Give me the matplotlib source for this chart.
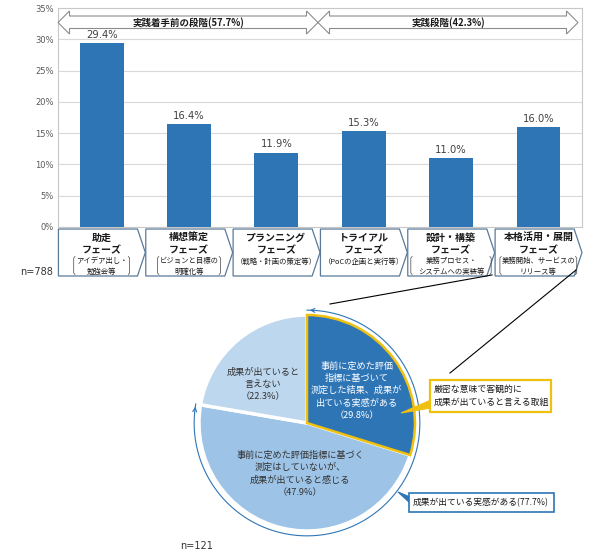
import matplotlib.pyplot as plt
from matplotlib.patches import Polygon, Rectangle
import numpy as np

plt.rcParams['font.family'] = ['Noto Sans CJK JP', 'DejaVu Sans']

# donnees du graphique en barres (n=788)
phases = ['助走', '構想策定', 'プランニング', 'トライアル', '設計・構築', '本格活用・展開']
details = [['アイデア出し・', '勉強会等'],
           ['ビジョンと目標の', '明確化等'],
           ['（戦略・計画の策定等）'],
           ['（PoCの企画と実行等）'],
           ['業務プロセス・', 'システムへの実装等'],
           ['業務開始、サービスの', 'リリース等']]
parts = [29.4, 16.4, 11.9, 15.3, 11.0, 16.0]
stage_labels = ['実践着手前の段階(57.7%)', '実践段階(42.3%)']
n_bar = 'n=788'

# donnees du camembert (n=121)
pie_labels = ['事前に定めた評価\n指標に基づいて\n測定した結果、成果が\n出ている実感がある\n（29.8%）',
              '事前に定めた評価指標に基づく\n測定はしていないが、\n成果が出ていると感じる\n（47.9%）',
              '成果が出ていると\n言えない\n（22.3%）']
pie_values = [29.8, 47.9, 22.3]
callout_strict = '厳密な意味で客観的に\n成果が出ていると言える取組'
callout_felt = '成果が出ている実感がある(77.7%)'
n_pie = 'n=121'

bleu = '#2e75b6'
narrow = ['Liberation Sans Narrow', 'DejaVu Sans']

fig = plt.figure(figsize=(5.9, 5.52), dpi=100)

# ---- barres ----
ax = fig.add_axes([58/590, 1-227/552, 524/590, 219/552])
x = np.arange(len(parts))
ax.bar(x, parts, width=0.5, color=bleu, zorder=3)
for i, v in enumerate(parts):
    ax.text(i, v + 0.5, f'{v:.1f}%', ha='center', va='bottom', fontsize=7.2,
            color='#404040', family=narrow)
ax.set_xlim(-0.5, 5.5)
ax.set_ylim(0, 35)
ax.set_yticks(range(0, 36, 5))
ax.set_yticklabels([f'{t}%' for t in range(0, 36, 5)], fontsize=6, color='#595959', family=narrow)
ax.set_xticks([])
ax.tick_params(length=0, pad=3)
ax.grid(axis='y', color='#d9d9d9', lw=0.8, zorder=0)
for s in ax.spines.values():
    s.set_color('#c8c8c8')
    s.set_linewidth(0.8)

# cases des phases sous l'axe
def yax(p):
    return (227 - p) / 219

tr = ax.get_xaxis_transform()
bracket_w = [0.32, 0.36, None, None, 0.46, 0.44]
for i, (ph, det) in enumerate(zip(phases, details)):
    l = i - 0.5 + 0.005
    pts = [(l, yax(229)), (l + 0.905, yax(229)), (l + 0.995, yax(252.5)),
           (l + 0.905, yax(276)), (l, yax(276))]
    ax.add_patch(Polygon(pts, closed=True, transform=tr, clip_on=False,
                         facecolor='white', edgecolor='#5a7a9a', lw=0.9))
    ax.text(i, yax(237.5), ph, transform=tr, ha='center', va='center', fontsize=7.2,
            fontweight='bold', color='#1a1a1a')
    ax.text(i, yax(250), 'フェーズ', transform=tr, ha='center', va='center', fontsize=7.2,
            fontweight='bold', color='#1a1a1a')
    if len(det) == 1:
        ax.text(i, yax(262), det[0], transform=tr, ha='center', va='center', fontsize=5.3,
                color='#1a1a1a')
    else:
        ax.text(i, yax(261), det[0], transform=tr, ha='center', va='center', fontsize=5.3,
                color='#1a1a1a')
        ax.text(i, yax(272), det[1], transform=tr, ha='center', va='center', fontsize=5.3,
                color='#1a1a1a')
        w = bracket_w[i]
        for sgn in (-1, 1):
            xb = i + sgn * w
            ax.plot([xb - sgn * 0.015, xb, xb, xb - sgn * 0.015],
                    [yax(256.5), yax(258), yax(273), yax(274.5)],
                    transform=tr, clip_on=False, color='#444444', lw=0.5)

# ---- camembert ----
axp = fig.add_axes([199/590, 1-531/552, 216/590, 216/552])
wedges, _ = axp.pie(pie_values, colors=[bleu, '#9dc3e6', '#bdd7ee'], startangle=90,
                    counterclock=False, radius=1,
                    wedgeprops=dict(edgecolor='white', linewidth=2.5))
wedges[0].set_edgecolor('#f0c010')
wedges[0].set_linewidth(1.8)
wedges[0].set_zorder(4)
axp.set_xlim(-1, 1)
axp.set_ylim(-1, 1)
axp.set_aspect('auto')
axp.axis('off')

axp.text(0.46, 0.30, pie_labels[0], ha='center', va='center', fontsize=6.6,
         color='white', linespacing=1.45, zorder=6)
axp.text(-0.065, -0.47, pie_labels[1], ha='center', va='center', fontsize=6.6,
         color='#333333', linespacing=1.45)
axp.text(-0.41, 0.36, pie_labels[2], ha='center', va='center', fontsize=6.6,
         color='#333333', linespacing=1.45)

# arc "実感がある" autour du camembert
share = (pie_values[0] + pie_values[1]) / 100
th = np.radians(np.linspace(90, 90 - share * 360, 200))
r = 1.045
axp.plot(r * np.cos(th), r * np.sin(th), color=bleu, lw=0.8, clip_on=False)
for a, b in ((th[3], th[0]), (th[-4], th[-1])):
    axp.annotate('', xy=(r * np.cos(b), r * np.sin(b)), xytext=(r * np.cos(a), r * np.sin(a)),
                 arrowprops=dict(arrowstyle='->', color=bleu, lw=0.8, mutation_scale=7),
                 annotation_clip=False)

# ---- calque de decoration (pixels) ----
ov = fig.add_axes([0, 0, 1, 1], zorder=5)
ov.set_xlim(0, 590)
ov.set_ylim(552, 0)
ov.axis('off')

# fleches des etapes
def fleche(x0, x1, head=11.5):
    pts = [(x0, 22.5), (x0 + head, 11), (x0 + head, 16), (x1 - head, 16), (x1 - head, 11),
           (x1, 22.5), (x1 - head, 34), (x1 - head, 28.5), (x0 + head, 28.5), (x0 + head, 34)]
    ov.add_patch(Polygon(pts, closed=True, facecolor='white', edgecolor='#8c8c8c', lw=0.8))

fleche(58, 318)
fleche(318, 578)
ov.text(188, 22.5, stage_labels[0], ha='center', va='center', fontsize=6.8,
        fontweight='bold', color='#1a1a1a')
ov.text(448, 22.5, stage_labels[1], ha='center', va='center', fontsize=6.8,
        fontweight='bold', color='#1a1a1a')

ov.text(20, 272, n_bar, ha='left', va='center', fontsize=7, color='#333333', family=narrow)
ov.text(180, 546, n_pie, ha='left', va='center', fontsize=7, color='#333333', family=narrow)

# lignes de liaison
ov.plot([492, 330], [275, 304], color='black', lw=0.8)
ov.plot([576, 450], [270, 373], color='black', lw=0.8)

# encadre jaune
ov.add_patch(Polygon([(431, 400), (431, 408), (401, 413)], closed=True,
                     facecolor='#f0c010', edgecolor='#f0c010', lw=0.8))
ov.add_patch(Rectangle((430, 380), 121, 32, facecolor='white', edgecolor='#f0c010', lw=1.6))
ov.text(434, 396, callout_strict, ha='left', va='center', fontsize=6.4,
        color='#1a1a1a', linespacing=1.5)

# encadre bleu
ov.add_patch(Polygon([(410, 497), (410, 503), (398, 492)], closed=True,
                     facecolor=bleu, edgecolor=bleu, lw=0.8))
ov.add_patch(Rectangle((409, 493), 145, 19, facecolor='white', edgecolor=bleu, lw=1.2))
ov.text(413, 502.5, callout_felt, ha='left', va='center', fontsize=6.3, color='#1a1a1a')

plt.savefig('out.png', dpi=100)
